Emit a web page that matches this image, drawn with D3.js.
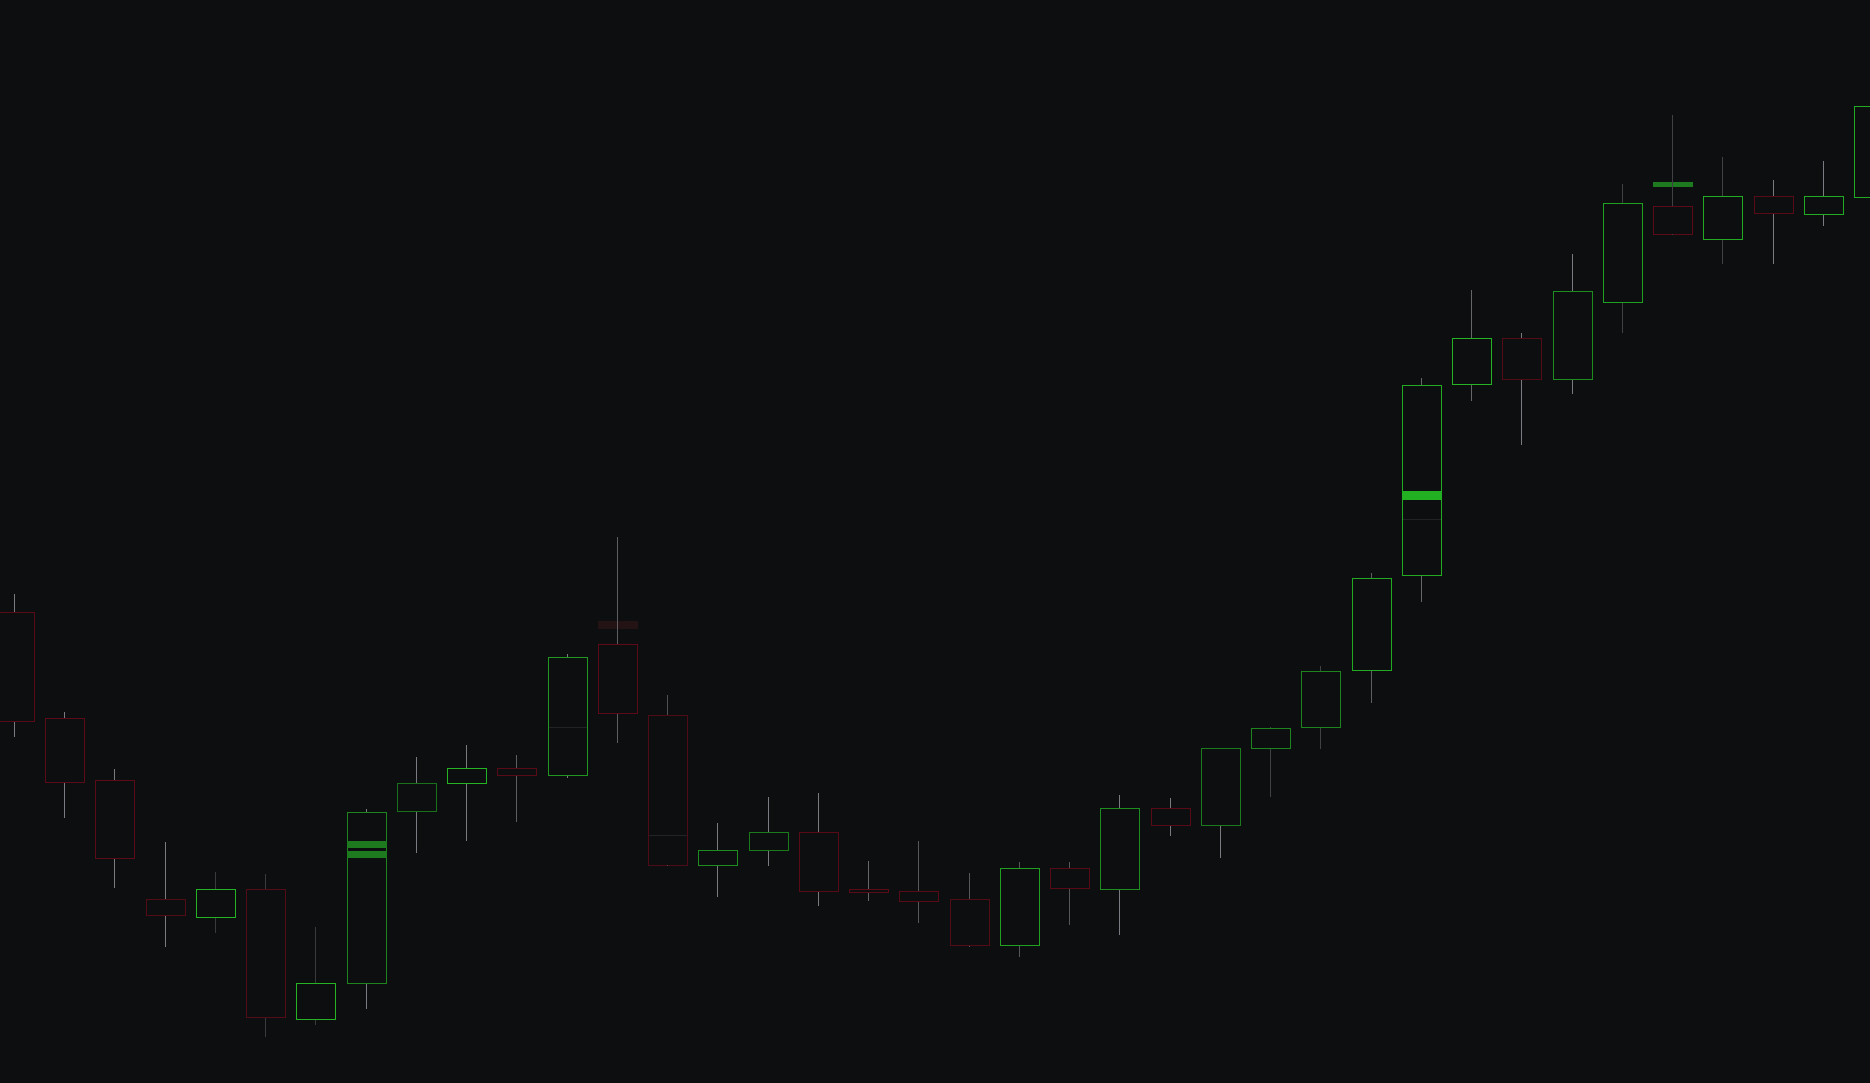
<!DOCTYPE html>
<html>
<head>
<meta charset="utf-8">
<script src="https://cdn.jsdelivr.net/npm/d3@7"></script>
<style>
  html, body { margin: 0; padding: 0; background: #0d0e10; overflow: hidden; }
  svg { display: block; }
</style>
</head>
<body>
<svg id="chart" width="1870" height="1083"></svg>
<script>
// ---- data ----
const days = ["01","02","03","04","05","06","07","08","09","10","11","12","13","14","15","16","17","18","19",
              "20","21","22","23","24","25","26","27","28","29","30","31","32","33","34","35","36","37","38"];
const open  = [197.7,176.4,164.1,140.3,136.7,142.3,116.3,123.5,157.9,163.5,166.3,165.1,191.1,177.1,147.1,150.0,153.6,142.3,141.9,
               140.1,131.1,146.5,142.3,158.3,155.1,170.3,174.7,186.1,205.1,243.3,252.5,244.3,259.6,278.9,272.1,280.8,277.1,280.7];
const high  = [201.2,177.6,166.2,151.6,145.6,145.2,134.7,158.2,168.6,171.1,169.1,189.2,212.7,181.1,155.3,160.7,161.4,147.8,151.9,
               145.5,147.6,147.6,161.1,160.3,170.4,174.7,186.8,205.4,244.4,262.0,253.4,269.2,283.2,297.0,288.7,284.0,287.8,301.0];
const low   = [172.7,156.3,142.5,130.7,133.3,112.7,115.1,118.3,149.3,151.9,155.7,164.3,171.3,147.0,140.7,146.9,138.9,139.9,135.5,
               130.7,128.7,135.1,133.1,152.9,148.5,160.7,170.1,179.5,199.7,239.9,231.1,241.3,253.5,273.1,267.3,267.1,274.8,279.0];
const close = [175.9,163.7,148.3,137.1,142.3,116.7,123.4,157.6,163.5,166.5,165.1,188.7,177.3,147.1,150.0,153.5,141.9,141.7,139.9,
               131.1,146.5,142.5,158.3,155.1,170.3,174.3,185.9,204.3,243.1,252.5,244.3,261.9,279.5,273.1,280.8,277.5,280.9,298.9];
// per-candle body intensity and wick activity (0..1)
const bodyStrength = [0.6,0.7,0.7,0.5,1.0,0.5,1.0,0.5,0.3,1.0,0.6,0.7,0.7,0.4,0.6,0.4,0.6,0.7,0.6,
                      0.5,0.8,0.6,0.6,0.6,0.4,0.5,0.5,0.9,0.9,1.0,0.5,0.6,0.8,0.7,0.9,0.6,0.9,0.9];
const wickStrength = [1,1,1,1,0.1,0.1,0.1,1,1,1,0.6,1,0.6,0.4,1,1,1,0.7,0.5,
                      0.5,0.5,0.5,1,1,1,0.2,0.2,0.6,0.7,0.7,1,1,0.2,0.2,0.2,1,1,1];
// price-level markers: candle index, low, high, kind
const markerIdx  = [7, 7, 28, 33, 12];
const markerLo   = [150.3, 148.3, 220.0, 282.7, 194.3];
const markerHi   = [151.9, 149.9, 221.8, 283.6, 195.9];
const markerKind = ["buy", "buy", "strong", "buy", "sell"];
// faint reference levels inside bodies
const levelIdx = [11, 13, 28];
const levelVal = [174.7, 153.0, 216.3];

// ---- chart ----
const W = 1870, H = 1083;
const BG = "#0d0e10";
const svg = d3.select("#chart");
svg.append("rect").attr("width", W).attr("height", H).attr("fill", BG);

const x = d3.scalePoint().domain(days).range([14.3, 1873.5]);
const y = d3.scaleLinear().domain([100, 300]).range([1100, 100]);

const HALF_L = 19, HALF_R = 20;
const data = days.map((d, i) => ({
  d, i, o: open[i], h: high[i], l: low[i], c: close[i],
  up: close[i] > open[i], bs: bodyStrength[i], ws: wickStrength[i]
}));

const greenC = d3.interpolateRgb("#165418", "#23b323");
const redC = d3.interpolateRgb("#3a0b12", "#6c0a1a");
const wickC = d3.interpolateRgb("#333336", "#7a7a80");

const cx = d => Math.floor(x(d.d));
const left = d => cx(d) - HALF_L;
const topY = d => Math.round(y(Math.max(d.o, d.c)));
const botY = d => Math.round(y(Math.min(d.o, d.c)));

// bodies
svg.append("g").selectAll("rect").data(data).join("rect")
  .attr("x", d => left(d) + 0.5)
  .attr("y", d => topY(d) + 0.5)
  .attr("width", HALF_L + HALF_R)
  .attr("height", d => Math.max(1, botY(d) - topY(d)))
  .attr("fill", BG)
  .attr("stroke", d => d.up ? greenC(d.bs) : redC(d.bs))
  .attr("stroke-width", 1);

// faint levels
svg.append("g").selectAll("line").data(levelIdx.map((k, j) => ({ d: data[k], v: levelVal[j] }))).join("line")
  .attr("x1", m => left(m.d) + 1)
  .attr("x2", m => cx(m.d) + HALF_R)
  .attr("y1", m => Math.round(y(m.v)) + 0.5)
  .attr("y2", m => Math.round(y(m.v)) + 0.5)
  .attr("stroke", "#222327").attr("stroke-width", 1);

// markers
const markerFill = { buy: "#1d7a1f", strong: "#22b022", sell: "#231315" };
svg.append("g").selectAll("rect").data(markerIdx.map((k, j) => ({ d: data[k], lo: markerLo[j], hi: markerHi[j], kind: markerKind[j] }))).join("rect")
  .attr("x", m => left(m.d))
  .attr("y", m => Math.round(y(m.hi)))
  .attr("width", HALF_L + HALF_R + 1)
  .attr("height", m => Math.max(1, Math.round(y(m.lo)) - Math.round(y(m.hi))))
  .attr("fill", m => markerFill[m.kind]);

// wicks (outside the body)
const wx = d => cx(d) + 0.5;
const wicks = svg.append("g");
wicks.selectAll("line.hi").data(data).join("line").attr("class", "hi")
  .attr("x1", wx).attr("x2", wx)
  .attr("y1", d => Math.round(y(d.h))).attr("y2", d => topY(d))
  .attr("stroke", d => wickC(d.ws)).attr("stroke-width", 1);
wicks.selectAll("line.lo").data(data).join("line").attr("class", "lo")
  .attr("x1", wx).attr("x2", wx)
  .attr("y1", d => botY(d) + 1).attr("y2", d => Math.round(y(d.l)))
  .attr("stroke", d => wickC(d.ws)).attr("stroke-width", 1);
</script>
</body>
</html>
